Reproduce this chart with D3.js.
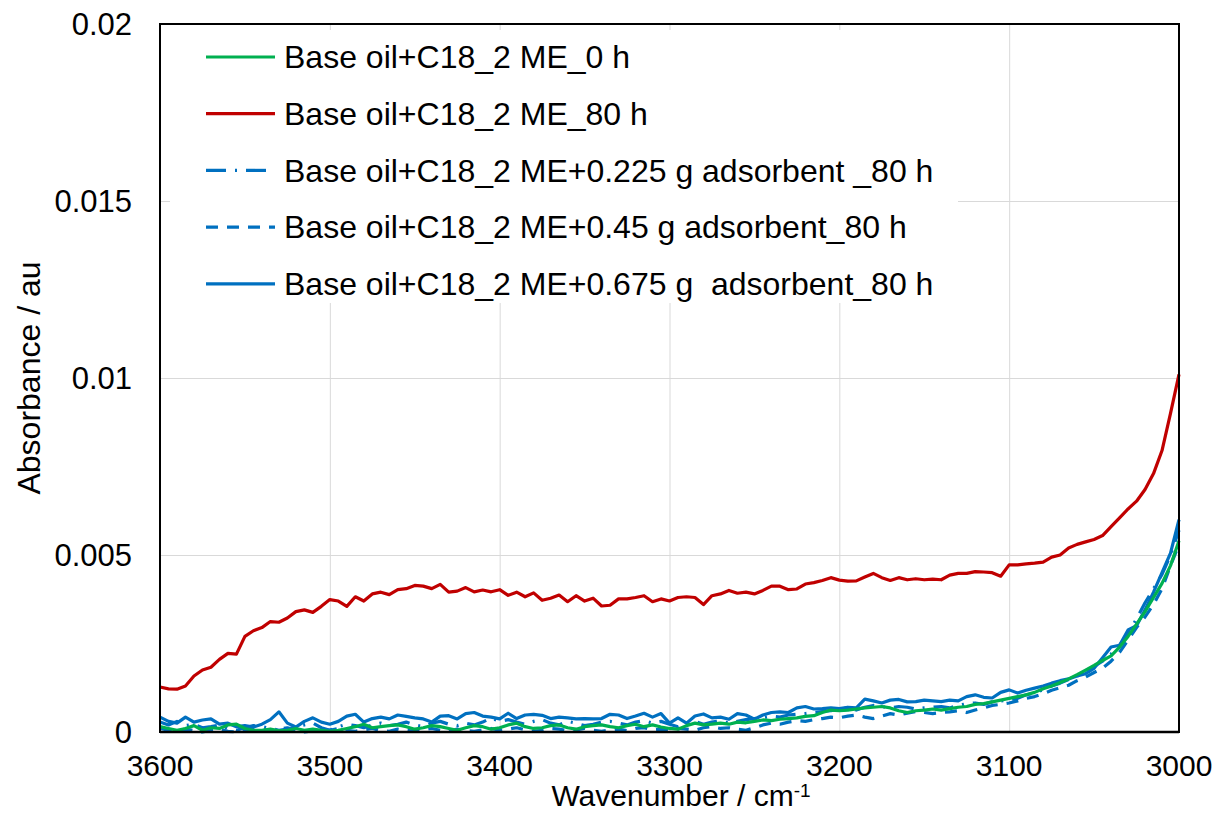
<!DOCTYPE html>
<html>
<head>
<meta charset="utf-8">
<script src="https://cdn.jsdelivr.net/npm/d3@7"></script>
<style>
  body { margin: 0; background: #fff; }
  text { font-family: "Liberation Sans", Arial, sans-serif; fill: #000; white-space: pre; }
</style>
</head>
<body>
<script>
// wavenumber grid (cm-1), 5 cm-1 steps from 3600 down to 3000
var wavenumbers = d3.range(3600, 2999, -5);

// absorbance values x 1e-3
var oil0h = [0.15,0.10,0.05,0.10,0.18,0.05,0.12,0.10,0.20,0.22,0.10,0.05,0.05,0.08,0.03,0.05,0.10,0.05,0.08,0.05,
  0.02,0.05,0.10,0.15,0.22,0.12,0.15,0.18,0.20,0.15,0.08,0.12,0.18,0.15,0.10,0.05,0.12,0.18,0.15,0.08,
  0.12,0.20,0.25,0.15,0.10,0.12,0.18,0.20,0.12,0.08,0.15,0.18,0.20,0.15,0.12,0.18,0.22,0.15,0.20,0.14,
  0.10,0.08,0.18,0.25,0.20,0.22,0.25,0.22,0.28,0.26,0.30,0.34,0.32,0.36,0.38,0.40,0.44,0.46,0.55,0.62,
  0.60,0.62,0.65,0.68,0.70,0.72,0.68,0.60,0.55,0.60,0.62,0.65,0.62,0.66,0.70,0.72,0.78,0.80,0.85,0.90,
  0.95,1.00,1.05,1.12,1.22,1.30,1.40,1.50,1.62,1.75,1.88,2.02,2.15,2.40,2.70,3.05,3.40,3.80,4.20,4.70,5.40];

var oil80h = [1.27,1.22,1.21,1.30,1.58,1.75,1.83,2.05,2.22,2.20,2.70,2.86,2.95,3.12,3.10,3.22,3.40,3.45,3.38,3.55,
  3.74,3.70,3.55,3.82,3.70,3.90,3.95,3.88,4.02,4.05,4.14,4.12,4.05,4.17,3.95,3.98,4.08,3.96,4.01,3.96,
  4.02,3.86,3.95,3.82,3.93,3.72,3.78,3.87,3.68,3.85,3.70,3.78,3.56,3.58,3.76,3.76,3.80,3.85,3.68,3.76,
  3.70,3.80,3.82,3.80,3.60,3.85,3.90,4.00,3.92,3.95,3.90,4.00,4.12,4.12,4.02,4.04,4.18,4.22,4.28,4.36,
  4.29,4.26,4.27,4.38,4.48,4.36,4.28,4.36,4.30,4.33,4.30,4.32,4.30,4.43,4.48,4.48,4.53,4.52,4.50,4.40,
  4.72,4.72,4.75,4.77,4.80,4.94,5.00,5.20,5.30,5.37,5.44,5.55,5.80,6.05,6.30,6.52,6.85,7.30,7.95,9.00,10.1];

var ads0225 = [0.28,0.20,0.30,0.18,0.22,0.12,0.15,0.20,0.10,0.05,0.12,0.18,0.15,0.10,0.05,0.08,0.15,0.20,0.25,0.12,
  0.05,0.15,0.22,0.18,0.12,0.20,0.25,0.18,0.22,0.28,0.20,0.15,0.25,0.30,0.22,0.18,0.25,0.20,0.28,0.40,
  0.30,0.35,0.28,0.22,0.30,0.35,0.25,0.20,0.30,0.25,0.18,0.22,0.28,0.30,0.25,0.20,0.28,0.32,0.25,0.30,
  0.22,0.15,0.25,0.30,0.22,0.28,0.32,0.25,0.30,0.35,0.38,0.40,0.45,0.42,0.48,0.50,0.52,0.55,0.58,0.60,
  0.65,0.68,0.62,0.70,0.75,0.72,0.68,0.72,0.70,0.65,0.68,0.70,0.72,0.68,0.75,0.80,0.82,0.78,0.85,0.88,
  0.90,0.95,1.05,1.10,1.20,1.30,1.38,1.48,1.58,1.70,1.85,2.00,2.20,2.45,2.75,3.20,3.65,4.05,4.45,5.00,5.70];

var ads045 = [0.10,0.05,0.02,0.08,0.04,0.00,0.05,0.08,0.02,0.00,0.05,0.10,0.05,0.02,0.08,0.12,0.05,0.00,0.03,0.08,
  0.05,0.10,0.05,0.02,0.06,0.10,0.04,0.02,0.08,0.05,0.02,0.06,0.10,0.05,0.02,0.08,0.04,0.02,0.06,0.10,
  0.05,0.08,0.12,0.06,0.02,0.05,0.10,0.08,0.04,0.06,0.10,0.05,0.02,0.06,0.08,0.04,0.10,0.12,0.06,0.08,
  0.05,0.10,0.08,0.05,0.12,0.15,0.10,0.12,0.08,0.05,0.12,0.20,0.25,0.22,0.28,0.32,0.30,0.35,0.38,0.42,
  0.40,0.45,0.48,0.42,0.38,0.45,0.52,0.48,0.53,0.58,0.55,0.52,0.55,0.57,0.60,0.55,0.62,0.68,0.75,0.78,
  0.82,0.88,0.95,1.00,1.08,1.18,1.25,1.32,1.45,1.55,1.68,1.80,2.00,2.25,2.60,2.95,3.25,3.60,4.05,4.70,5.30];

var ads0675 = [0.42,0.30,0.25,0.42,0.28,0.34,0.37,0.22,0.25,0.15,0.18,0.14,0.22,0.35,0.57,0.25,0.14,0.30,0.40,0.28,
  0.22,0.30,0.45,0.50,0.28,0.38,0.42,0.37,0.48,0.44,0.40,0.37,0.28,0.45,0.46,0.37,0.52,0.55,0.45,0.42,
  0.37,0.53,0.38,0.48,0.50,0.47,0.38,0.42,0.40,0.37,0.38,0.37,0.38,0.50,0.48,0.38,0.45,0.53,0.42,0.52,
  0.25,0.40,0.25,0.45,0.51,0.40,0.42,0.36,0.52,0.48,0.36,0.48,0.55,0.57,0.55,0.68,0.72,0.65,0.66,0.68,
  0.66,0.70,0.68,0.93,0.88,0.82,0.90,0.92,0.85,0.86,0.90,0.88,0.86,0.90,0.88,1.00,1.05,0.98,0.96,1.12,
  1.19,1.10,1.18,1.24,1.30,1.38,1.45,1.50,1.58,1.65,1.80,2.10,2.40,2.45,2.88,3.00,3.45,3.95,4.50,5.05,6.00];

var seriesNames = ["Base oil+C18_2 ME_0 h", "Base oil+C18_2 ME_80 h",
  "Base oil+C18_2 ME+0.225 g adsorbent _80 h", "Base oil+C18_2 ME+0.45 g adsorbent_80 h",
  "Base oil+C18_2 ME+0.675 g  adsorbent_80 h"];
var seriesValues = [oil0h, oil80h, ads0225, ads045, ads0675];
var seriesColors = ["#00b050", "#c00000", "#0070c0", "#0070c0", "#0070c0"];
var seriesDash = [null, null, "20 9 2 9", "12 9", null];

var xTicks = [3600, 3500, 3400, 3300, 3200, 3100, 3000];
var yTicks = [0, 0.005, 0.01, 0.015, 0.02];

var W = 1217, H = 813;
var margin = {top: 24, right: 38, bottom: 81, left: 160};
var width = W - margin.left - margin.right;
var height = H - margin.top - margin.bottom;

var svg = d3.select("body").append("svg")
    .attr("width", W)
    .attr("height", H);

var g = svg.append("g")
    .attr("transform", "translate(" + margin.left + "," + margin.top + ")");

var x = d3.scaleLinear().domain([3600, 3000]).range([0, width]);
var y = d3.scaleLinear().domain([0, 0.02]).range([height, 0]);

// gridlines
g.append("g")
    .attr("class", "grid")
    .call(d3.axisLeft(y).tickValues(yTicks).tickSize(-width).tickFormat(""))
    .call(function(s) { s.select(".domain").remove(); })
    .selectAll("line").attr("stroke", "#d9d9d9").attr("stroke-width", 1);

g.append("g")
    .attr("class", "grid")
    .attr("transform", "translate(0," + height + ")")
    .call(d3.axisBottom(x).tickValues(xTicks).tickSize(-height).tickFormat(""))
    .call(function(s) { s.select(".domain").remove(); })
    .selectAll("line").attr("stroke", "#d9d9d9").attr("stroke-width", 1);

// series
var line = d3.line()
    .x(function(d) { return x(d[0]); })
    .y(function(d) { return y(d[1] / 1000); });

var data = seriesValues.map(function(vals, i) {
    return {name: seriesNames[i], color: seriesColors[i], dash: seriesDash[i],
            points: vals.map(function(v, j) { return [wavenumbers[j], v]; })};
});

// draw blues first, then green and red on top like the original
var drawOrder = [2, 3, 4, 0, 1];
g.selectAll(".series")
    .data(drawOrder.map(function(i) { return data[i]; }))
    .enter()
    .append("path")
    .attr("class", "series")
    .attr("fill", "none")
    .attr("stroke", function(d) { return d.color; })
    .attr("stroke-width", 3.2)
    .attr("stroke-linejoin", "round")
    .attr("stroke-dasharray", function(d) { return d.dash; })
    .attr("d", function(d) { return line(d.points); });

// zero line
g.append("line")
    .attr("x1", 0).attr("x2", width)
    .attr("y1", y(0)).attr("y2", y(0))
    .attr("stroke", "#000").attr("stroke-width", 2.5);

// frame
g.append("rect")
    .attr("width", width).attr("height", height)
    .attr("fill", "none").attr("stroke", "#000").attr("stroke-width", 2);

// tick labels
g.selectAll(".ylab")
    .data(yTicks)
    .enter().append("text")
    .attr("x", -28)
    .attr("y", function(d) { return y(d); })
    .attr("dy", "0.35em")
    .attr("text-anchor", "end")
    .attr("font-size", "31px")
    .text(function(d) { return d === 0 ? "0" : d3.format("")(d); });

g.selectAll(".xlab")
    .data(xTicks)
    .enter().append("text")
    .attr("x", function(d) { return x(d); })
    .attr("y", height + 44)
    .attr("text-anchor", "middle")
    .attr("font-size", "30px")
    .text(function(d) { return d; });

// axis titles
var xt = svg.append("text")
    .attr("x", 681)
    .attr("y", H - 7)
    .attr("text-anchor", "middle")
    .attr("font-size", "30px")
    .text("Wavenumber / cm");
xt.append("tspan")
    .attr("dy", "-0.5em")
    .attr("font-size", "19px")
    .text("-1");

svg.append("text")
    .attr("transform", "translate(40," + (margin.top + height / 2) + ") rotate(-90)")
    .attr("text-anchor", "middle")
    .attr("font-size", "32px")
    .text("Absorbance / au");

// legend
var legend = g.append("g").attr("transform", "translate(10,6)");
legend.append("rect")
    .attr("width", 788).attr("height", 273)
    .attr("fill", "#fff");

var item = legend.selectAll(".item")
    .data(data)
    .enter().append("g")
    .attr("transform", function(d, i) { return "translate(0," + (27 + i * 56.7) + ")"; });

item.append("line")
    .attr("x1", 36).attr("x2", 105)
    .attr("stroke", function(d) { return d.color; })
    .attr("stroke-width", 3.2)
    .attr("stroke-dasharray", function(d) { return d.dash; });

item.append("text")
    .attr("x", 114)
    .attr("dy", "0.35em")
    .attr("font-size", "32px")
    .text(function(d) { return d.name; });
</script>
</body>
</html>
